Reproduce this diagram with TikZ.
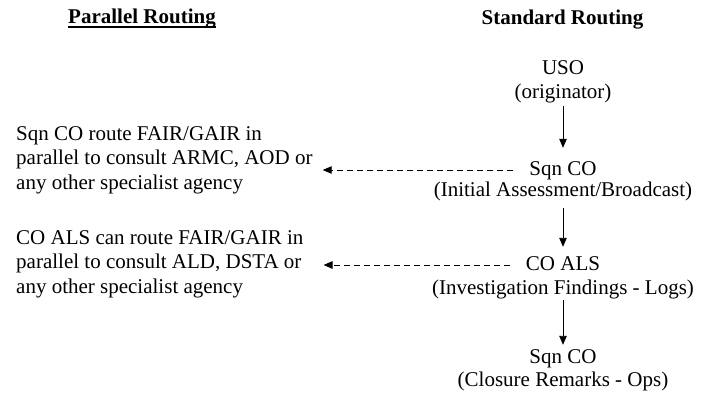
\documentclass[tikz,border=0pt]{standalone}
\usepackage{fontspec}
\setmainfont{Liberation Serif}
\usetikzlibrary{arrows.meta,positioning}
\newcommand\RTuline[1]{\setbox0\hbox{#1}\rlap{\rule[-3.8pt]{\wd0}{1.4pt}}\box0}
\tikzset{RThead/.style={font=\fontsize{21}{24}\selectfont\bfseries,anchor=base,inner sep=0pt},
         RTname/.style={font=\fontsize{21}{24.5}\selectfont,text height=14pt,text depth=4pt,inner sep=2pt},
         RTnote/.style={font=\fontsize{21}{24.5}\selectfont,align=left,anchor=west,inner sep=2pt},
         RTflow/.style={line width=0.9pt,-{Triangle[length=9pt,width=7.5pt]}},
         RTpar/.style={line width=0.9pt,dash pattern=on 6pt off 4pt,-{Triangle[length=9pt,width=7.5pt]}}}
\begin{document}
\begin{tikzpicture}[x=1pt,y=-1pt]
  \useasboundingbox (0,0) rectangle (708,398);
  % column headings
  \node[RThead] (hpar) at (142,24) {\RTuline{Parallel Routing}};
  \node[RThead] (hstd) at (562.5,24.5) {Standard Routing};
  % standard routing chain
  \node[RTname] (uso)   at (563,70)  {USO};
  \node[RTname] (usod)  at (563,94)  {(originator)};
  \node[RTname] (sqna)  at (563,170) {Sqn CO};
  \node[RTname] (sqnad) at (563,191) {(Initial Assessment/Broadcast)};
  \node[RTname] (als)   at (563,265) {CO ALS};
  \node[RTname] (alsd)  at (563,289) {(Investigation Findings - Logs)};
  \node[RTname] (sqnb)  at (563,358) {Sqn CO};
  \node[RTname] (sqnbd) at (563,381) {(Closure Remarks - Ops)};
  \draw[RTflow,shorten <=1pt,shorten >=11pt] (usod) -- (sqna);
  \draw[RTflow,shorten <=6pt,shorten >=7pt] (sqnad) -- (als);
  \draw[RTflow,shorten <=0pt,shorten >=2pt] (alsd) -- (sqnb);
  % parallel routing notes
  \node[RTnote] (para) at (14,160) {Sqn CO route FAIR/GAIR in\\parallel to consult ARMC, AOD or\\any other specialist agency};
  \node[RTnote] (parb) at (14,264) {CO ALS can route FAIR/GAIR in\\parallel to consult ALD, DSTA or\\any other specialist agency};
  \draw[RTpar,shorten <=14pt,shorten >=8pt] (sqna.west) -- (sqna.west -| para.east);
  \draw[RTpar,shorten <=14pt,shorten >=18pt] (als.west) -- (als.west -| parb.east);
\end{tikzpicture}
\end{document}
